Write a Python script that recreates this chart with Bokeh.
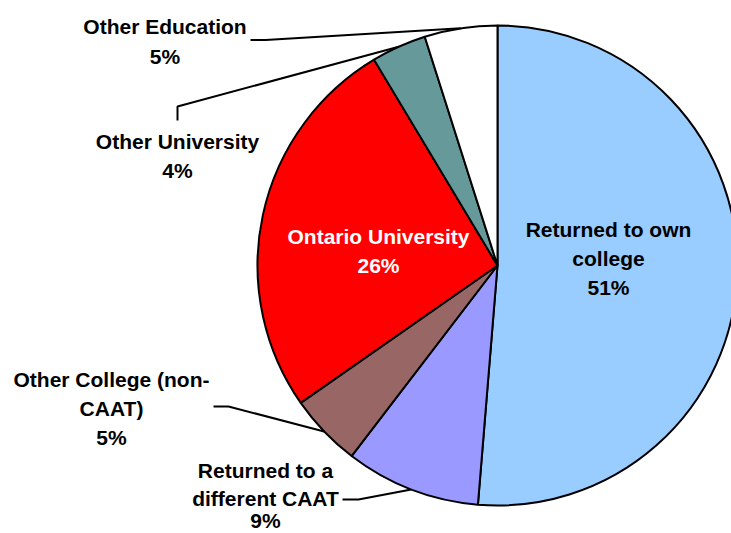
import math
from bokeh.plotting import figure
from bokeh.models import Range1d
from bokeh.core.properties import value
from bokeh.embed import file_html
from bokeh.resources import INLINE

# ---- data ----
categories = ["Returned to own college", "Returned to a different CAAT",
              "Other College (non-CAAT)", "Ontario University",
              "Other University", "Other Education"]
shares = [51.3, 9.1, 4.9, 26.1, 3.7, 4.9]
pct_labels = ["51%", "9%", "5%", "26%", "4%", "5%"]
label_lines = [["Returned to own", "college"],
               ["Returned to a", "different CAAT"],
               ["Other College (non-", "CAAT)"],
               ["Ontario University"],
               ["Other University"],
               ["Other Education"]]
colors = ["#99CCFF", "#9999FF", "#996666", "#FF0000", "#669999", "#FFFFFF"]

# ---- layout (reference pixel coords, y downward) ----
H = 533
W_FIG, H_FIG = 731, 533
cx_ref, cy_ref, R = 497, 265, 240
label_x = [608, 265, 111, 378, 177, 164.5]
label_ys = [[229, 258, 287],
            [470, 498, 520],
            [379, 408, 437],
            [236, 265],
            [141, 170],
            [26, 56]]
text_colors = ["black", "black", "black", "white", "black", "black"]
leader_start = [None,
                [(342, 499), (358, 499)],
                [(213, 406), (228, 406)],
                None,
                [(177, 120), (177, 106)],
                [(250, 39.5), (265, 39.5)]]

def Y(yr):
    return H - yr

p = figure(width=W_FIG, height=H_FIG, output_backend="svg", toolbar_location=None,
           x_range=Range1d(0, W_FIG), y_range=Range1d(Y(H_FIG), Y(0)),
           min_border=0)
p.axis.visible = False
p.grid.visible = False
p.outline_line_color = None
p.background_fill_color = "white"
p.border_fill_color = "white"

total = sum(shares)
cum = 0.0
starts, ends, mids = [], [], []
for s in shares:
    a0 = math.pi / 2 - 2 * math.pi * (cum + s) / total
    a1 = math.pi / 2 - 2 * math.pi * cum / total
    starts.append(a0)
    ends.append(a1)
    mids.append((a0 + a1) / 2)
    cum += s

cx, cy = cx_ref, Y(cy_ref)
p.wedge(x=[cx] * len(shares), y=[cy] * len(shares), radius=R,
        start_angle=starts, end_angle=ends, direction="anticlock",
        fill_color=colors, line_color="black", line_width=2)

# leader lines
xs, ys = [], []
for i, pts in enumerate(leader_start):
    if pts is None:
        continue
    ex = cx + R * math.cos(mids[i])
    ey = cy + R * math.sin(mids[i])
    xs.append([pt[0] for pt in pts] + [ex])
    ys.append([Y(pt[1]) for pt in pts] + [ey])
p.multi_line(xs=xs, ys=ys, line_color="black", line_width=2)

# labels
tx, ty, tt, tc = [], [], [], []
for i, lines in enumerate(label_lines):
    all_lines = lines + [pct_labels[i]]
    for k, ln in enumerate(all_lines):
        tx.append(label_x[i])
        ty.append(Y(label_ys[i][k]))
        tt.append(ln)
        tc.append(text_colors[i])
p.text(x=tx, y=ty, text=tt, text_color=tc, text_align="center",
       text_baseline="middle", text_font=value("Liberation Sans"),
       text_font_style="bold", text_font_size="21px")

open("out.html", "w").write(file_html(p, INLINE))
